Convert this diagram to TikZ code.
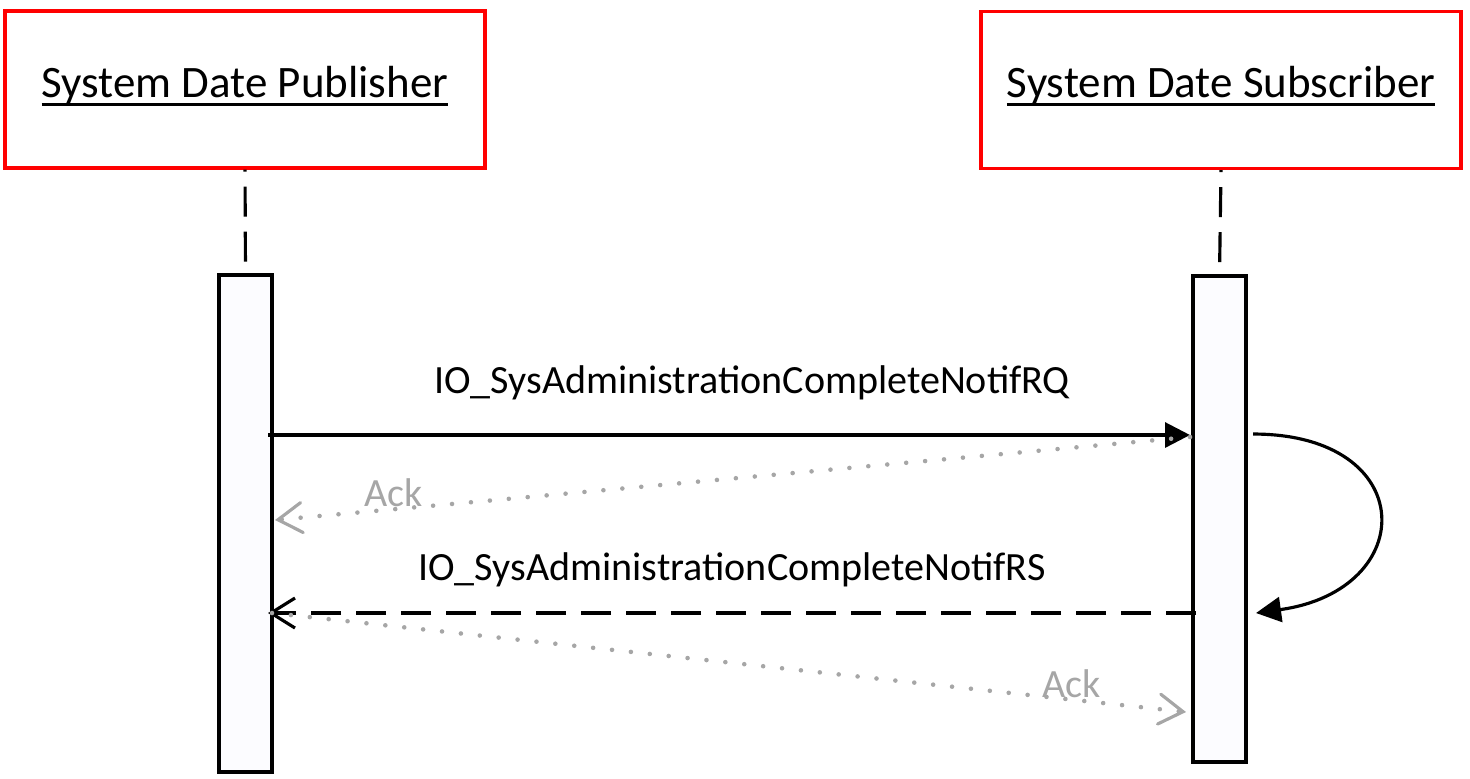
\documentclass[tikz,border=0pt]{standalone}
\usepackage{fontspec}
\setmainfont{Carlito}
\usepackage{tikz}
\usetikzlibrary{arrows.meta, positioning, calc}

\newcommand{\thickul}[1]{\vtop{\hbox{\raisebox{0pt}[\height][0pt]{#1}}\kern1.6pt\hrule height 0.9pt}}

\begin{document}
\begin{tikzpicture}[
  actor/.style={draw=red, line width=0.9pt, fill=white, minimum width=4.8cm,
                minimum height=1.57cm, font=\fontsize{12.8}{15}\selectfont},
  act/.style={draw, line width=0.9pt, fill=blue!1, minimum width=0.53cm},
  life/.style={line width=0.9pt, dash pattern=on 0.3cm off 0.15cm, dash phase=0.28cm},
  msg/.style={line width=0.9pt, -{Triangle[length=2.5mm, width=2.5mm]}},
  reply/.style={line width=0.9pt, dash pattern=on 0.3cm off 0.15cm,
                -{Straight Barb[length=2.4mm, width=3mm, line width=0.9pt]}},
  ack/.style={black!35, line width=1.3pt, line cap=round, dash pattern=on 0pt off 0.19cm,
              -{Straight Barb[length=2.4mm, width=3mm, line width=0.9pt, line cap=round]}},
  lbl/.style={font=\fontsize{11.4}{13}\selectfont},
  acklbl/.style={font=\fontsize{11.4}{13}\selectfont, text=black!35, inner sep=0pt}
]
  \useasboundingbox (0,0) rectangle (14.7,-7.78);

  % lifeline heads
  \node[actor] (pub) at (2.45,-0.895) {\raisebox{1.6mm}{\thickul{System Date Publisher}}};
  \node[actor] (sub) at (12.21,-0.90) {\raisebox{1.6mm}{\thickul{System Date Subscriber}}};

  % activation bars
  \node[act, minimum height=4.97cm] (pubact) at (2.455,-5.235) {};
  \node[act, minimum height=4.86cm] (subact) at (12.195,-5.19) {};

  \draw[life] (pub.south) -- (pubact.north);
  \draw[life] (sub.south) -- (subact.north);

  % message ends
  \coordinate (rqA) at (2.68,-4.35);
  \coordinate (rqB) at (11.90,-4.35);
  \coordinate (ackA) at (11.90,-4.37);
  \coordinate (ackB) at (2.75,-5.20);
  \coordinate (rsA) at (11.96,-6.13);
  \coordinate (rsB) at (2.68,-6.13);
  \coordinate (ack2A) at (2.72,-6.13);
  \coordinate (ack2B) at (11.86,-7.12);
  \coordinate (selfA) at (12.53,-4.34);
  \coordinate (selfB) at (12.56,-6.13);

  \draw[msg] (rqA) -- node[lbl, above=2.2mm, pos=0.525] {IO\_SysAdministrationCompleteNotifRQ} (rqB);
  \draw[ack] (ackA) -- node[acklbl, above, pos=0.87] {Ack} (ackB);
  \draw[msg] (selfA) .. controls (14.2,-4.34) and (14.2,-5.9) .. (selfB);
  \draw[reply] (rsA) -- node[lbl, above=1.3mm] {IO\_SysAdministrationCompleteNotifRS} (rsB);
  \draw[ack] (ack2A) -- node[acklbl, above, pos=0.875] {Ack} (ack2B);
\end{tikzpicture}
\end{document}
